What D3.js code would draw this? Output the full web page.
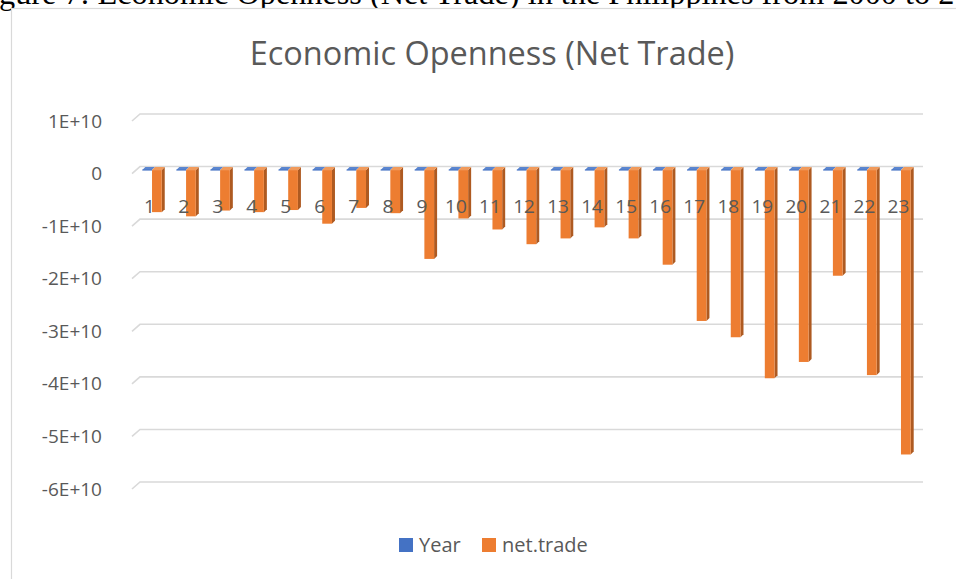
<!DOCTYPE html>
<html>
<head>
<meta charset="utf-8">
<script src="https://cdn.jsdelivr.net/npm/d3@7"></script>
<style>
  html, body { margin: 0; padding: 0; background: #fff; overflow: hidden; }
  svg { display: block; }
</style>
</head>
<body>
<svg id="chart" width="956" height="579"></svg>
<script>
// Category labels (observation index) and the two series plotted
const categories = ["1","2","3","4","5","6","7","8","9","10","11","12","13","14","15","16","17","18","19","20","21","22","23"];
const seriesNames = ["Year", "net.trade"];
const yearValues = [2000,2001,2002,2003,2004,2005,2006,2007,2008,2009,2010,2011,2012,2013,2014,2015,2016,2017,2018,2019,2020,2021,2022];
const netTradeValues = [
  -8.0e9, -8.8e9, -7.7e9, -8.0e9, -7.6e9, -1.02e10, -7.2e9, -8.2e9, -1.69e10, -9.2e9,
  -1.13e10, -1.41e10, -1.30e10, -1.09e10, -1.30e10, -1.80e10, -2.87e10, -3.18e10,
  -3.96e10, -3.65e10, -2.01e10, -3.90e10, -5.41e10
];
const yTickValues = [1e10, 0, -1e10, -2e10, -3e10, -4e10, -5e10, -6e10];
const yTickLabels = ["1E+10", "0", "-1E+10", "-2E+10", "-3E+10", "-4E+10", "-5E+10", "-6E+10"];
const seriesColors = { "Year": "#4472C4", "net.trade": "#ED7D31" };
const seriesSide   = { "Year": "#2F5597", "net.trade": "#AE5A21" };
const seriesTop    = { "Year": "#5B86D0", "net.trade": "#F19A5B" };

const svg = d3.select("#chart");
const textColor = "#595959";
const gridColor = "#d9d9d9";
const uiFont = "'Open Sans', 'Noto Sans', sans-serif";

// Document caption running behind the chart object
const caption = svg.append("text")
  .attr("x", 0).attr("y", 4)
  .attr("font-family", "'Liberation Serif', 'Times New Roman', serif")
  .attr("font-size", 27)
  .attr("fill", "#000")
  .text("Figure 7: Economic Openness (Net Trade) in the Philippines from 2000 to 2022");
{
  const node = caption.node();
  const str = node.textContent;
  const gIdx = str.indexOf("g");
  const endIdx = str.indexOf("to 2") + 3;
  const a = node.getStartPositionOfChar(gIdx).x;
  const b = node.getEndPositionOfChar(endIdx).x;
  const k = (956 - 0) / (b - a);
  caption.attr("font-size", 27 * k);
  const a2 = node.getStartPositionOfChar(gIdx).x;
  caption.attr("x", -a2 - 1);
}

// Chart area (white, with light border) laid over the page
svg.append("rect")
  .attr("x", 11.5).attr("y", 8.5)
  .attr("width", 1000).attr("height", 700)
  .attr("fill", "#fff")
  .attr("stroke", gridColor).attr("stroke-width", 1.2);

// Title
const title = svg.append("text")
  .attr("x", 492).attr("y", 65)
  .attr("text-anchor", "middle")
  .attr("font-family", uiFont)
  .attr("font-size", 30)
  .attr("fill", textColor)
  .text("Economic Openness (Net Trade)");
{
  const w = title.node().getComputedTextLength();
  title.attr("font-size", 30 * 485 / w);
}

// Scales on the back wall of the 3-D plot
const y = d3.scaleLinear().domain([-6e10, 1e10]).range([482, 114]);
const x = d3.scaleBand().domain(categories).range([140, 923]);
const xs = d3.scaleBand().domain(seriesNames).range([0, x.bandwidth()]).paddingInner(0).paddingOuter(0.75);

// Depth offsets: side wall front edge, bar front face, bar depth
const wallDX = -8, wallDY = 7;
const faceDX = -5, faceDY = 3.5;
const depthDX = 3, depthDY = -3;

// Gridlines: back wall horizontal + side wall slant
const grid = svg.append("g");
yTickValues.forEach(v => {
  const yy = y(v);
  grid.append("path")
    .attr("d", `M${140 + wallDX},${yy + wallDY}L140,${yy}L923,${yy}`)
    .attr("fill", "none")
    .attr("stroke", gridColor)
    .attr("stroke-width", 1.6);
});

// Y axis labels at the front edge of the side wall
const yAxis = d3.axisLeft(y)
  .tickValues(yTickValues)
  .tickFormat((d, i) => yTickLabels[i])
  .tickSize(0)
  .tickPadding(30);
const yAxisG = svg.append("g")
  .attr("transform", `translate(${140 + wallDX},${wallDY})`)
  .call(yAxis);
yAxisG.select(".domain").remove();
yAxisG.selectAll("text")
  .attr("font-family", uiFont)
  .attr("font-size", 19)
  .attr("fill", textColor);

// Bars (3-D columns: front face, top face, side face)
const rows = categories.map((c, i) => ({ cat: c, values: { "Year": yearValues[i], "net.trade": netTradeValues[i] } }));
const bars = svg.append("g");
rows.forEach(r => {
  seriesNames.forEach(s => {
    const v = r.values[s];
    const x0 = x(r.cat) + xs(s) + faceDX;
    const w = xs.bandwidth();
    const yTop = Math.min(y(v), y(0)) + faceDY;
    const yBot = Math.max(y(v), y(0)) + faceDY;
    const g = bars.append("g");
    // side face
    g.append("path")
      .attr("d", `M${x0 + w},${yTop}L${x0 + w + depthDX},${yTop + depthDY}L${x0 + w + depthDX},${yBot + depthDY}L${x0 + w},${yBot}Z`)
      .attr("fill", seriesSide[s]);
    // top face
    g.append("path")
      .attr("d", `M${x0},${yTop}L${x0 + depthDX},${yTop + depthDY}L${x0 + w + depthDX},${yTop + depthDY}L${x0 + w},${yTop}Z`)
      .attr("fill", seriesTop[s]);
    // front face
    if (yBot - yTop > 0.5) {
      g.append("rect")
        .attr("x", x0).attr("y", yTop)
        .attr("width", w).attr("height", yBot - yTop)
        .attr("fill", seriesColors[s]);
    } else {
      g.append("rect")
        .attr("x", x0).attr("y", yTop - 0.5)
        .attr("width", w).attr("height", 1)
        .attr("fill", seriesColors[s]);
    }
  });
});

// Category labels on the front plane, drawn over the bars
const xAxis = d3.axisBottom(x).tickSize(0).tickPadding(0);
const xAxisG = svg.append("g")
  .attr("transform", `translate(-7.5,${199})`)
  .call(xAxis);
xAxisG.select(".domain").remove();
xAxisG.selectAll("text")
  .attr("font-family", uiFont)
  .attr("font-size", 19)
  .attr("fill", textColor);

// Legend
const legend = svg.append("g").attr("font-family", uiFont).attr("font-size", 20).attr("fill", textColor);
const legendItems = [
  { name: "Year", sx: 399, tx: 419 },
  { name: "net.trade", sx: 482, tx: 502 }
];
legendItems.forEach(it => {
  legend.append("rect")
    .attr("x", it.sx).attr("y", 538)
    .attr("width", 14).attr("height", 14)
    .attr("fill", seriesColors[it.name]);
  legend.append("text")
    .attr("x", it.tx).attr("y", 552)
    .text(it.name);
});
</script>
</body>
</html>
